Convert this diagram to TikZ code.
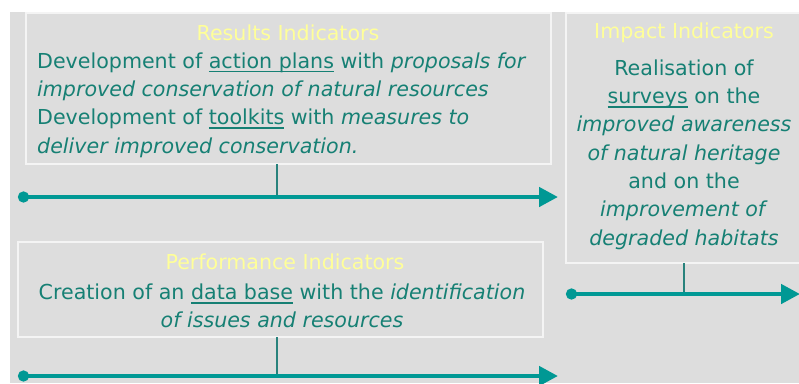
\documentclass[tikz,border=0pt]{standalone}
\usepackage{fontspec}
\setmainfont{DejaVu Sans}
\usetikzlibrary{arrows.meta}
\definecolor{bggray}{RGB}{221,221,221}
\definecolor{boxline}{RGB}{244,244,244}
\definecolor{txtteal}{RGB}{22,128,116}
\definecolor{arrteal}{RGB}{0,152,148}
\definecolor{stemteal}{RGB}{40,130,124}
\definecolor{ttlyellow}{RGB}{255,255,153}
\newcommand\myul[1]{\setbox0\hbox{#1}\rlap{\rule[-4.2pt]{\wd0}{1.6pt}}\box0\relax}
\tikzset{
  ibox/.style={draw=boxline, line width=1.5pt, fill=bggray},
  ttl/.style={text=ttlyellow, inner sep=0pt, font=\fontsize{20.6}{24}\selectfont},
  body/.style={text=txtteal, inner sep=0pt, font=\fontsize{20.6}{28.3}\selectfont},
  timeline/.style={draw=arrteal, line width=4.5pt, {Circle[length=11pt]}-{Triangle[length=19pt,width=19pt]}},
  stemline/.style={draw=stemteal, line width=1.2pt}
}
\begin{document}
\begin{tikzpicture}[x=1pt,y=-1pt]
\useasboundingbox (0,0) rectangle (799,383);
\fill[white] (0,0) rectangle (799,383);
\fill[bggray] (10,12) rectangle (799,383);
\begin{scope}
\clip (0,0) rectangle (799,383);
% boxes
\draw[ibox] (26,13) rectangle (551,164);
\draw[ibox] (566,13) rectangle (810,263);
\draw[ibox] (18,242) rectangle (543,337);
\coordinate (rbs) at (277,164);
\coordinate (ibs) at (684,263);
\coordinate (pbs) at (277,337);
% titles
\node[ttl] (rttl) at (288,33) {Results Indicators};
\node[ttl] (ittl) at (684,33) {Impact Indicators};
\node[ttl] (pttl) at (285,262) {Performance Indicators};
% texts
\node[body, anchor=west, align=left] (rtxt) at (37,105) {Development of \myul{action plans} with \textit{proposals for}\\
\textit{improved conservation of natural resources}\\
Development of \myul{toolkits} with \textit{measures to}\\
\textit{deliver improved conservation.}};
\node[body, align=center] (itxt) at (684,154.5) {Realisation of\\
\myul{surveys} on the\\
\textit{improved awareness}\\
\textit{of natural heritage}\\
and on the\\
\textit{improvement of}\\
\textit{degraded habitats}};
\node[body, align=center] (ptxt) at (282,306) {Creation of an \myul{data base} with the \textit{identification}\\
\textit{of issues and resources}};
% timelines
\coordinate (a1s) at (18,197);
\coordinate (a1e) at (558,197);
\coordinate (a2s) at (18,376);
\coordinate (a2e) at (558,376);
\coordinate (a3s) at (566,294);
\coordinate (a3e) at (800,294);
\draw[stemline] (rbs) -- (rbs |- a1s);
\draw[stemline] (pbs) -- (pbs |- a2s);
\draw[stemline] (ibs) -- (ibs |- a3s);
\draw[timeline] (a1s) -- (a1e);
\draw[timeline] (a2s) -- (a2e);
\draw[timeline] (a3s) -- (a3e);
\end{scope}
\end{tikzpicture}
\end{document}
